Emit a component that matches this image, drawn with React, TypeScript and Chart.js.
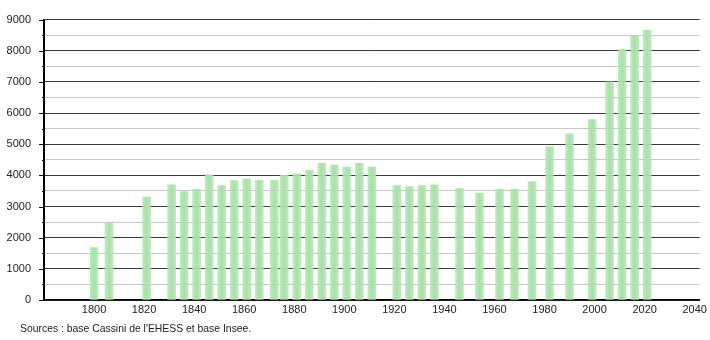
import React, { useEffect, useRef } from "react";
import { Chart, registerables } from "chart.js";

Chart.register(...registerables);

const years = [1800, 1806, 1821, 1831, 1836, 1841, 1846, 1851, 1856, 1861, 1866, 1872, 1876, 1881, 1886, 1891, 1896, 1901, 1906, 1911, 1921, 1926, 1931, 1936, 1946, 1954, 1962, 1968, 1975, 1982, 1990, 1999, 2006, 2011, 2016, 2021];
const population = [1680, 2480, 3300, 3700, 3480, 3550, 4020, 3670, 3830, 3890, 3840, 3840, 4000, 4050, 4170, 4390, 4330, 4270, 4390, 4270, 3670, 3640, 3670, 3700, 3580, 3430, 3550, 3550, 3800, 4920, 5330, 5790, 7000, 8040, 8470, 8660];
const xTickLabels = [1800, 1820, 1840, 1860, 1880, 1900, 1920, 1940, 1960, 1980, 2000, 2020, 2040];
const yMajorStep = 1000;
const yMinorStep = 500;
const sourceText = "Sources : base Cassini de l'EHESS et base Insee.";

const FONT = "'Liberation Sans', Arial, sans-serif";
const BAR_W = 8;

const tickMarks = {
  id: "tickMarks",
  afterDraw(chart: any) {
    const ys = chart.scales.y;
    const ctx = chart.ctx;
    const { left, top, bottom } = chart.chartArea;
    ctx.save();
    ctx.strokeStyle = "#111";
    ctx.lineWidth = 1;
    for (let v = 0; v <= ys.max; v += yMinorStep) {
      const p = Math.round(ys.getPixelForValue(v)) + 0.5;
      const len = v % yMajorStep === 0 ? 5 : 2;
      ctx.beginPath();
      ctx.moveTo(left - len, p);
      ctx.lineTo(left, p);
      ctx.stroke();
    }
    ctx.lineWidth = 1.5;
    ctx.strokeStyle = "#000";
    ctx.beginPath();
    ctx.moveTo(Math.round(left) + 0.25, top);
    ctx.lineTo(Math.round(left) + 0.25, bottom);
    ctx.stroke();
    ctx.restore();
  },
};

export default function App() {
  const ref = useRef<HTMLCanvasElement>(null);
  useEffect(() => {
    if (!ref.current) return;
    const chart = new Chart(ref.current, {
      type: "bar",
      data: {
        datasets: [
          {
            data: years.map((yr, i) => ({ x: yr, y: population[i] })),
            barThickness: BAR_W,
            borderWidth: 0,
            backgroundColor: (c: any) => {
              const ch = c.chart;
              const xs = ch.scales && ch.scales.x;
              if (!xs || c.dataIndex === undefined) return "rgb(172,226,172)";
              const px = xs.getPixelForValue(years[c.dataIndex]);
              if (!Number.isFinite(px)) return "rgb(172,226,172)";
              const g = ch.ctx.createLinearGradient(px - BAR_W / 2, 0, px + BAR_W / 2, 0);
              g.addColorStop(0, "rgba(176,228,176,0.8)");
              g.addColorStop(0.5, "rgb(168,224,168)");
              g.addColorStop(1, "rgba(176,228,176,0.8)");
              return g;
            },
          } as any,
        ],
      },
      options: {
        animation: false,
        responsive: false,
        maintainAspectRatio: false,
        layout: { padding: { top: 11, right: 9, left: 0, bottom: 0 } },
        plugins: { legend: { display: false }, tooltip: { enabled: false } },
        scales: {
          x: {
            type: "linear",
            offset: false,
            min: 1780,
            max: 2042,
            afterBuildTicks: (s: any) => {
              s.ticks = xTickLabels.map((v) => ({ value: v }));
            },
            afterFit: (s: any) => {
              s.height = 40;
            },
            grid: { display: false, drawTicks: false, offset: false },
            border: { display: true, color: "#000", width: 1.5 },
            ticks: {
              padding: 3,
              color: "#222",
              font: { family: FONT, size: 11 },
              maxRotation: 0,
              autoSkip: false,
              callback: (v: any) => String(v),
            },
          },
          y: {
            min: 0,
            max: 9000,
            afterFit: (s: any) => {
              s.width = 44;
            },
            grid: {
              drawTicks: false,
              color: (c: any) => (c.tick && c.tick.value % yMajorStep === 0 ? "#3a3a3a" : "#c8c8c8"),
              lineWidth: 1,
            },
            border: { display: true, color: "#000", width: 1.5 },
            ticks: {
              stepSize: yMinorStep,
              padding: 13,
              color: "#222",
              font: { family: FONT, size: 11 },
              autoSkip: false,
              callback: (v: any) => (Number(v) % yMajorStep === 0 ? String(v) : ""),
            },
          },
        },
      },
      plugins: [tickMarks],
    });
    return () => chart.destroy();
  }, []);

  return (
    <div style={{ position: "absolute", left: 0, top: 0, width: 710, height: 340, background: "#fff" }}>
      <canvas ref={ref} width={710} height={340} style={{ position: "absolute", left: 0, top: 0 }} />
      <div
        style={{
          position: "absolute",
          left: 20,
          top: 323,
          fontFamily: FONT,
          fontSize: 10.4,
          color: "#222",
          whiteSpace: "nowrap",
          lineHeight: "12px",
        }}
      >
        {sourceText}
      </div>
    </div>
  );
}
